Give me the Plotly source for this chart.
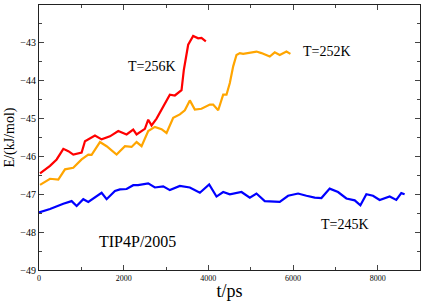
import plotly.graph_objects as go

# T=256K (red)
t_red = [24, 260, 417, 575, 693, 810, 1007, 1086, 1322, 1479, 1676, 1872, 2069, 2226, 2305, 2501,
         2580, 2659, 2777, 2934, 3091, 3209, 3367, 3422, 3524, 3642, 3760, 3838, 3941]
e_red = [-46.45, -46.25, -46.08, -45.80, -45.86, -45.95, -45.90, -45.60, -45.45, -45.55, -45.47, -45.33,
         -45.42, -45.29, -45.42, -45.27, -45.03, -45.18, -45.00, -44.68, -44.37, -44.39, -44.25, -43.71,
         -43.05, -42.82, -42.88, -42.87, -42.96]

# T=252K (orange)
t_orange = [24, 260, 456, 614, 810, 1007, 1164, 1243, 1440, 1597, 1833, 2030, 2187, 2305, 2423, 2580,
            2737, 2894, 3013, 3170, 3327, 3445, 3563, 3681, 3838, 4036, 4114, 4233, 4351, 4429, 4508,
            4587, 4665, 4744, 4823, 4980, 5137, 5255, 5451, 5569, 5687, 5845, 5939]
e_orange = [-46.75, -46.59, -46.61, -46.34, -46.30, -46.08, -45.95, -45.96, -45.62, -45.73, -45.95,
            -45.73, -45.75, -45.62, -45.73, -45.33, -45.22, -45.28, -45.38, -44.98, -44.89, -44.78,
            -44.52, -44.76, -44.74, -44.63, -44.63, -44.78, -44.37, -44.37, -44.06, -43.62, -43.32,
            -43.27, -43.29, -43.25, -43.23, -43.27, -43.36, -43.25, -43.32, -43.23, -43.29]

# T=245K (blue)
t_blue = [0, 260, 574, 771, 889, 1046, 1164, 1361, 1479, 1597, 1794, 1912, 2069, 2226, 2340, 2580,
          2737, 2934, 3091, 3327, 3563, 3800, 4020, 4193, 4351, 4508, 4783, 4980, 5137, 5333, 5687,
          5884, 6120, 6317, 6513, 6671, 6867, 7064, 7261, 7458, 7592, 7733, 7890, 8047, 8283, 8440,
          8558, 8637]
e_blue = [-47.48, -47.39, -47.25, -47.18, -47.31, -47.13, -47.20, -47.04, -46.96, -47.13, -46.91,
          -46.87, -46.86, -46.76, -46.76, -46.71, -46.82, -46.79, -46.89, -46.78, -46.82, -46.96,
          -46.74, -47.06, -46.94, -47.00, -46.94, -47.09, -46.98, -47.18, -47.20, -47.04, -46.98,
          -47.04, -47.09, -47.10, -46.85, -46.94, -47.11, -47.16, -47.29, -47.00, -47.04, -47.15,
          -47.06, -47.15, -46.97, -47.00]

FONT = "Liberation Serif"

fig = go.Figure()
for t, e, c in [(t_blue, e_blue, "#0000ff"), (t_orange, e_orange, "#ffa500"), (t_red, e_red, "#ff0000")]:
    fig.add_trace(go.Scatter(x=t, y=e, mode="lines", line=dict(color=c, width=2.2), showlegend=False))

annots = [
    dict(x=2667, y=-43.63, text="T=256K", size=14),
    dict(x=6797, y=-43.24, text="T=252K", size=14),
    dict(x=7221, y=-47.79, text="T=245K", size=14),
    dict(x=2336, y=-48.26, text="TIP4P/2005", size=16),
]
for a in annots:
    fig.add_annotation(x=a["x"], y=a["y"], text=a["text"], showarrow=False,
                       font=dict(family=FONT, size=a["size"], color="black"))

fig.update_layout(
    width=422, height=307,
    margin=dict(l=39, r=2, t=5, b=37),
    plot_bgcolor="white", paper_bgcolor="white",
    font=dict(family=FONT, color="black"),
    xaxis=dict(range=[0, 9000], dtick=2000, tick0=0, ticks="inside", ticklen=5, tickcolor="#444",
               showgrid=False, zeroline=False, showline=True, linecolor="#222", linewidth=1.2,
               mirror="ticks", tickfont=dict(size=8, family=FONT), automargin=False,
               minor=dict(dtick=1000, ticks="inside", ticklen=3, tickcolor="#444"),
               title=dict(text="t/ps", font=dict(size=18, family=FONT), standoff=2)),
    yaxis=dict(range=[-49, -42], dtick=1, tick0=-49, ticks="inside", ticklen=5, tickcolor="#444",
               showgrid=False, zeroline=False, showline=True, linecolor="#222", linewidth=1.2,
               mirror="ticks", tickfont=dict(size=10, family=FONT), automargin=False,
               minor=dict(dtick=0.5, ticks="inside", ticklen=3, tickcolor="#444"),
               title=dict(text="E/(kJ/mol)", font=dict(size=14, family=FONT), standoff=2)),
)

fig.write_html("out.html", config={"displayModeBar": False},
               post_script="document.body.style.margin='0';")
